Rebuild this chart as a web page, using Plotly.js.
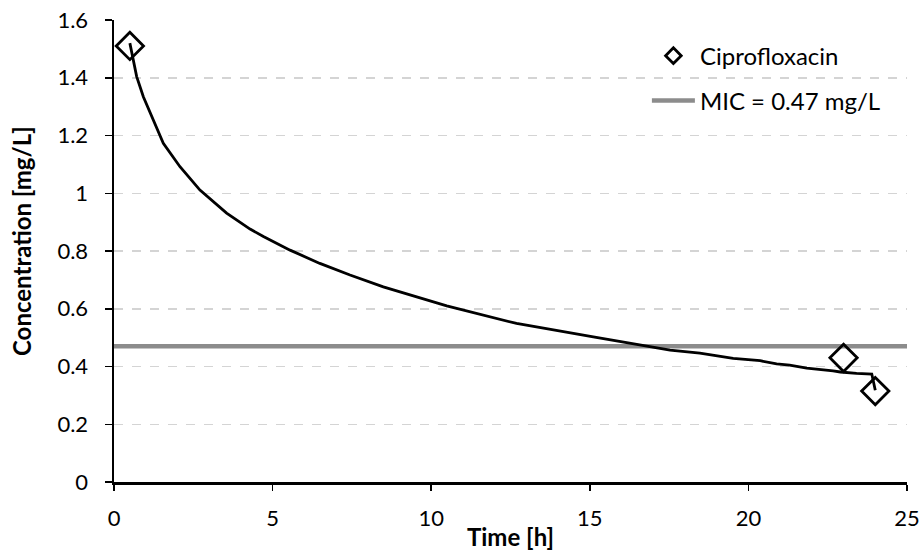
<!DOCTYPE html>
<html>
<head>
<meta charset="utf-8">
<script src="https://cdn.plot.ly/plotly-3.0.1.min.js"></script>
<style>html,body{margin:0;padding:0;background:#fff;}#chart{width:921px;height:553px;}</style>
</head>
<body>
<div id="chart"></div>
<script>
// Fitted concentration curve
var curveT = [0.5, 0.61, 0.715, 0.925, 1.24, 1.555, 2.08, 2.71, 3.55, 4.29, 4.71, 5.55, 6.49, 7.44, 8.49, 9.54, 10.49, 12.69, 14.06, 15.11, 16.48, 17.53, 18.47, 19.52, 20.37, 20.89, 21.3, 21.84, 22.67, 22.9, 23.41, 23.89, 24.0];
var curveC = [1.52, 1.461, 1.404, 1.334, 1.254, 1.173, 1.092, 1.011, 0.931, 0.876, 0.850, 0.803, 0.757, 0.717, 0.676, 0.642, 0.610, 0.549, 0.524, 0.503, 0.477, 0.457, 0.446, 0.428, 0.420, 0.409, 0.405, 0.394, 0.385, 0.381, 0.376, 0.374, 0.318];
// Observed Ciprofloxacin concentrations
var obsT = [0.5, 23, 24];
var obsC = [1.51, 0.43, 0.315];
// MIC threshold
var micT = [0, 25];
var micC = [0.47, 0.47];
// Legend labels
var obsName = 'Ciprofloxacin';
var micName = 'MIC = 0.47 mg/L';

var FONT = 'Lato, "Open Sans", sans-serif';

var traces = [
  {x: micT, y: micC, mode: 'lines', name: micName,
   line: {color: '#8c8c8c', width: 4.5}, legend: 'legend2', showlegend: true},
  {x: curveT, y: curveC, mode: 'lines', name: 'fit',
   line: {color: '#000000', width: 2.8}, showlegend: false},
  {x: obsT, y: obsC, mode: 'markers', name: obsName, showlegend: false,
   marker: {symbol: 'diamond-open', size: 21, color: '#000000', line: {color: '#000000', width: 2.8}}},
  // legend entry for the observations (smaller symbol, as in the original legend)
  {x: [null], y: [null], mode: 'markers', name: obsName, showlegend: true,
   marker: {symbol: 'diamond-open', size: 12, color: '#000000', line: {color: '#000000', width: 2.8}}}
];

var layout = {
  width: 921, height: 553,
  margin: {l: 114, r: 14, t: 20, b: 71},
  paper_bgcolor: '#ffffff', plot_bgcolor: '#ffffff',
  font: {family: FONT, size: 22, color: '#000000'},
  showlegend: true,
  legend: {x: 0.672, y: 0.922, xanchor: 'left', yanchor: 'middle', bgcolor: 'rgba(0,0,0,0)',
           itemwidth: 43, font: {family: FONT, size: 24, color: '#000'}},
  legend2: {x: 0.672, y: 0.825, xanchor: 'left', yanchor: 'middle', bgcolor: 'rgba(0,0,0,0)',
           itemwidth: 43, font: {family: FONT, size: 24, color: '#000'}},
  xaxis: {
    range: [0, 25], tickmode: 'linear', tick0: 0, dtick: 5,
    showgrid: false, zeroline: false,
    showline: true, linecolor: '#000', linewidth: 2.5,
    ticks: 'outside', ticklen: 6, tickwidth: 1.5, tickcolor: '#000',
    ticklabelstandoff: 9,
    tickfont: {family: FONT, size: 22},
    title: {text: '<b>Time [h]</b>', font: {family: FONT, size: 24}, standoff: 0},
    automargin: false
  },
  yaxis: {
    range: [0, 1.6], tickmode: 'linear', tick0: 0, dtick: 0.2,
    showgrid: true, gridcolor: '#d4d4d4', gridwidth: 1.5, griddash: 'dash',
    zeroline: false,
    showline: true, linecolor: '#000', linewidth: 2.5,
    ticks: 'outside', ticklen: 7, tickwidth: 1.5, tickcolor: '#000',
    ticklabelstandoff: 12,
    tickfont: {family: FONT, size: 22},
    automargin: false
  },
  annotations: [
    {text: '<b>Concentration [mg/L]</b>', xref: 'paper', yref: 'paper',
     x: -0.1173, y: 0.5216, xanchor: 'center', yanchor: 'middle', textangle: -90,
     showarrow: false, font: {family: FONT, size: 24, color: '#000'}}
  ]
};

Plotly.newPlot('chart', traces, layout, {displayModeBar: false, staticPlot: true});
</script>
</body>
</html>
